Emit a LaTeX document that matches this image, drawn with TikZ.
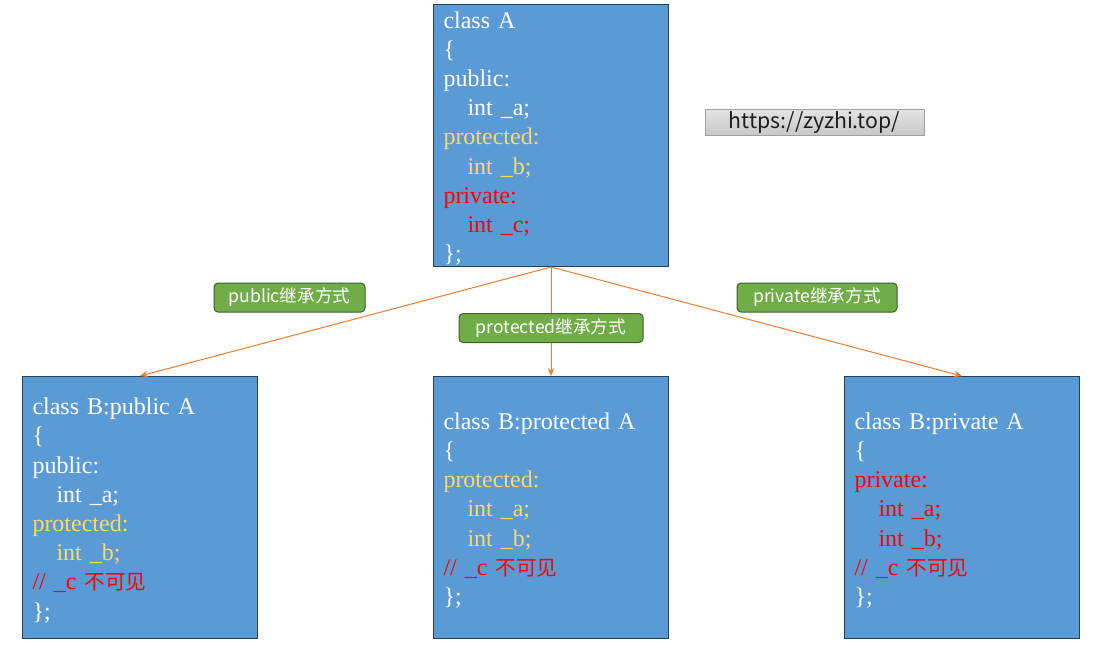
\documentclass[tikz,border=0pt]{standalone}
\usepackage{fontspec}
\setmainfont{Liberation Serif}
\newfontfamily\cjk{Noto Sans CJK SC}
\usetikzlibrary{arrows.meta}
\definecolor{boxfill}{RGB}{91,155,213}
\definecolor{boxline}{RGB}{38,64,96}
\definecolor{codeyellow}{RGB}{255,217,102}
\definecolor{codered}{RGB}{255,0,0}
\definecolor{lblfill}{RGB}{112,173,71}
\definecolor{lblline}{RGB}{60,96,40}
\definecolor{arrowc}{RGB}{237,125,49}
\definecolor{urlline}{RGB}{160,160,160}
\definecolor{urltop}{RGB}{228,228,228}
\definecolor{urlbot}{RGB}{200,200,200}
\definecolor{urltext}{RGB}{30,30,30}
\newcommand\codeindent{\hspace*{18pt}}
\newcommand\yl[1]{\textcolor{codeyellow}{#1}}
\newcommand\rd[1]{\textcolor{codered}{#1}}
\newcommand\topstrut{\rule{0pt}{17pt}}
\newcommand\hidden{{\cjk\fontsize{15.5}{21.9}\selectfont 不可见}}
\begin{document}
\begin{tikzpicture}[x=0.75pt,y=-0.75pt,
  classbox/.style={draw=boxline, line width=0.75pt, fill=boxfill,
    minimum width=176.25pt, minimum height=196.5pt, text width=161.25pt,
    inner xsep=7.5pt, inner ysep=0pt, align=left, text=white,
    font=\fontsize{18}{21.9}\selectfont, anchor=north west},
  lbl/.style={draw=lblline, line width=0.75pt, fill=lblfill, rounded corners=3pt,
    text=white, font=\cjk\fontsize{13.2}{15}\selectfont,
    minimum height=21.75pt, inner xsep=2pt, inner ysep=0pt},
  inherit/.style={draw=arrowc, line width=0.75pt, -{Stealth[length=6pt,width=5pt]}}]
\fill[white] (0,0) rectangle (1099,647);
\useasboundingbox (0,0) rectangle (1099,647);

\node[classbox] (A) at (433,4) {\topstrut class A\\
{\{}\\
public:\\
\codeindent int \_a;\\
\yl{protected:}\\
\yl{\codeindent int \_b;}\\
\rd{private:}\\
\rd{\codeindent int \_c;}\\
\};};

\node[classbox] (Bpub) at (22,376) {\topstrut class B:public A\\
\{\\
public:\\
\codeindent int \_a;\\
\yl{protected:}\\
\yl{\codeindent int \_b;}\\
\rd{// \_c \hidden}\\
\};};

\node[classbox] (Bpro) at (433,376) {\topstrut class B:protected A\\
\{\\
\yl{protected:}\\
\yl{\codeindent int \_a;}\\
\yl{\codeindent int \_b;}\\
\rd{// \_c \hidden}\\
\};};

\node[classbox] (Bpri) at (844,376) {\topstrut class B:private A\\
\{\\
\rd{private:}\\
\rd{\codeindent int \_a;}\\
\rd{\codeindent int \_b;}\\
\rd{// \_c \hidden}\\
\};};

\node[draw=urlline, line width=0.75pt, top color=urltop, bottom color=urlbot,
  minimum width=164.25pt, minimum height=19.5pt, inner sep=0pt, text=urltext,
  font=\cjk\fontsize{16}{18}\selectfont] (url) at (814.5,122) {https://zyzhi.top/};

\draw[inherit] (A.south) -- (Bpub.north);
\draw[inherit] (A.south) -- (Bpro.north);
\draw[inherit] (A.south) -- (Bpri.north);

\node[lbl, minimum width=113.25pt] (lpub) at (289.5,297.5) {public继承方式};
\node[lbl, minimum width=138pt] (lpro) at (551,328) {protected继承方式};
\node[lbl, minimum width=120pt] (lpri) at (817,297.5) {private继承方式};
\end{tikzpicture}
\end{document}
